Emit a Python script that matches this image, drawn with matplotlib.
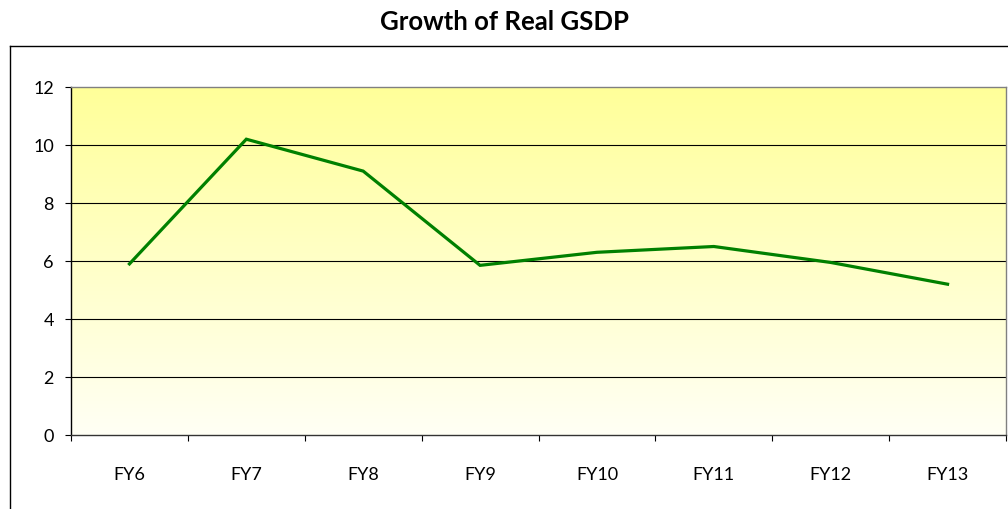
import matplotlib
matplotlib.use("Agg")
import matplotlib.pyplot as plt
import numpy as np
from matplotlib.lines import Line2D

categories = ["FY6", "FY7", "FY8", "FY9", "FY10", "FY11", "FY12", "FY13"]
growth = [5.9, 10.2, 9.1, 5.85, 6.3, 6.5, 5.95, 5.2]
yticks = [0, 2, 4, 6, 8, 10, 12]

plt.rcParams['font.family'] = ['Lato', 'DejaVu Sans']

W, H = 1008, 510
fig = plt.figure(figsize=(W / 100, H / 100), dpi=100)
fig.patch.set_facecolor('white')

# outer chart frame
fig.add_artist(Line2D([10 / W, 10 / W], [0, 1 - 47 / H], transform=fig.transFigure, color='black', lw=1.0))
fig.add_artist(Line2D([10 / W, 1.0], [1 - 47 / H, 1 - 47 / H], transform=fig.transFigure, color='black', lw=1.0))

left, right, top, bottom = 71, 1006, 88, 436
ax = fig.add_axes([left / W, 1 - bottom / H, (right - left) / W, (bottom - top) / H])

n = len(categories)
x = np.arange(n)
ax.set_xlim(-0.5, n - 0.5)
ax.set_ylim(0, 12)

# gradient background
grad = np.linspace(0, 1, 256).reshape(-1, 1)
top_c = np.array([255, 255, 153]) / 255
bot_c = np.array([255, 255, 245]) / 255
img = bot_c[None, None, :] * (1 - grad[..., None]) + top_c[None, None, :] * grad[..., None]
ax.imshow(img, extent=(-0.5, n - 0.5, 0, 12), origin='lower', aspect='auto', zorder=0)

for yv in yticks[1:-1]:
    ax.axhline(yv, color='black', lw=0.8, zorder=1)

ax.plot(x, growth, color='#008000', lw=2.3, zorder=3, solid_joinstyle='miter')

ax.set_yticks(yticks)
ax.set_yticklabels([str(v) for v in yticks], fontsize=13)
ax.tick_params(axis='y', direction='out', length=4.3, width=0.8, pad=8, colors='black')

ax.set_xticks(x)
ax.set_xticklabels(categories, fontsize=13)
ax.tick_params(axis='x', which='major', length=0, pad=22)
ax.set_xticks(np.arange(-0.5, n, 1.0), minor=True)
ax.tick_params(axis='x', which='minor', direction='out', length=4.3, width=0.8, colors='black')

ax.spines['left'].set_color('black')
ax.spines['bottom'].set_color('#333333')
ax.spines['top'].set_color('#808080')
ax.spines['right'].set_color('#808080')
for s in ax.spines.values():
    s.set_linewidth(1.0)

fig.text(0.5, 1 - 22 / H, "Growth of Real GSDP", ha='center', va='center', fontsize=18.5, fontweight='bold')

fig.savefig("out.png", dpi=100)
